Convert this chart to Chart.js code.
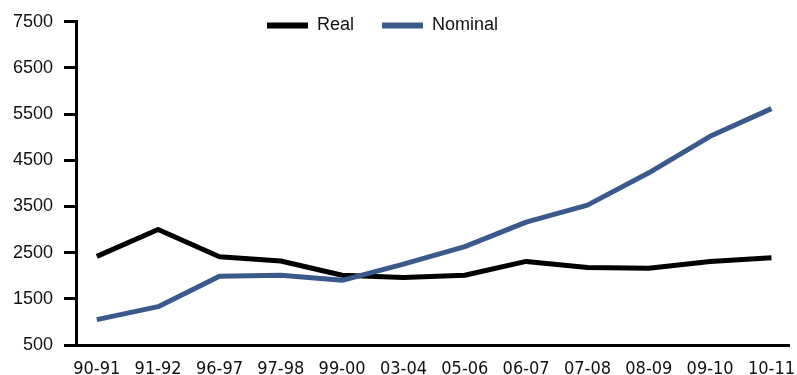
<!DOCTYPE html>
<html>
<head>
<meta charset="utf-8">
<script src="https://cdn.jsdelivr.net/npm/chart.js@4/dist/chart.umd.min.js"></script>
<style>
  html, body { margin: 0; padding: 0; background: #fff; }
  #wrap { width: 797px; height: 375px; position: relative; }
</style>
</head>
<body>
<div id="wrap"><canvas id="c" width="797" height="375"></canvas></div>
<script>
const categories = ['90-91','91-92','96-97','97-98','99-00','03-04','05-06','06-07','07-08','08-09','09-10','10-11'];
const realValues = [2420, 3000, 2410, 2320, 2010, 1960, 2010, 2310, 2180, 2160, 2310, 2390];
const nominalValues = [1050, 1330, 1990, 2010, 1900, 2250, 2630, 3160, 3530, 4230, 5020, 5620];
const yTicks = [500, 1500, 2500, 3500, 4500, 5500, 6500, 7500];

const toPoints = arr => arr.map((v, i) => ({ x: i, y: v }));
const NUM_FONT = { family: "'Liberation Sans', Arial, sans-serif", size: 18 };
const CAT_FONT = { family: "'Liberation Sans Narrow', 'DejaVu Sans Condensed', sans-serif", size: 18 };

// Legend takes no layout space; it is placed over the plot's top area.
const legendPlace = {
  id: 'legendPlace',
  beforeLayout(chart) {
    const l = chart.legend;
    if (l && !l._patched) {
      const origFit = l.fit.bind(l);
      l.fit = function () { origFit(); this.height = 0; };
      l._patched = true;
    }
  },
  afterLayout(chart) {
    const l = chart.legend;
    l.top = -11.5; l.bottom = 60; l.height = l.bottom - l.top;
    l.left = 239; l.right = 3000; l.width = l.right - l.left;
  }
};

new Chart(document.getElementById('c'), {
  type: 'line',
  data: {
    datasets: [
      { label: 'Real', data: toPoints(realValues), borderColor: '#000000', backgroundColor: '#000000',
        borderWidth: 5, pointRadius: 0, tension: 0, order: 1, borderJoinStyle: 'round' },
      { label: 'Nominal', data: toPoints(nominalValues), borderColor: '#3a5a8c', backgroundColor: '#3a5a8c',
        borderWidth: 5, pointRadius: 0, tension: 0, order: 0, borderJoinStyle: 'round' }
    ]
  },
  options: {
    responsive: false,
    animation: false,
    layout: { padding: { top: 18, left: 0, right: 0, bottom: 0 } },
    plugins: {
      tooltip: { enabled: false },
      legend: {
        position: 'top',
        align: 'start',
        reverse: true,
        labels: {
          font: NUM_FONT,
          color: '#111',
          boxWidth: 41,
          boxHeight: 6,
          padding: 28,
          generateLabels: (chart) => Chart.defaults.plugins.legend.labels.generateLabels(chart).map(l => ({ ...l, lineWidth: 0 }))
        }
      }
    },
    scales: {
      x: {
        type: 'linear',
        min: -0.339,
        max: 11.29,
        afterBuildTicks: (axis) => { axis.ticks = categories.map((_, i) => ({ value: i })); },
        afterFit: (axis) => { axis.height = 30; },
        grid: { display: true, drawOnChartArea: false, drawTicks: true, tickLength: 12, tickColor: 'rgba(0,0,0,0)' },
        border: { display: true, color: '#000', width: 3 },
        ticks: { autoSkip: false, maxRotation: 0, padding: 2, font: CAT_FONT, color: '#111',
          callback: (v) => categories[v] !== undefined ? categories[v] : '' }
      },
      y: {
        min: 500,
        max: 7500,
        afterBuildTicks: (axis) => { axis.ticks = yTicks.map(v => ({ value: v })); },
        afterFit: (axis) => { axis.width = 76; },
        grid: { drawOnChartArea: false, drawTicks: true, tickLength: 12, lineWidth: 3, color: '#000', tickWidth: 3, tickColor: '#000' },
        border: { display: true, color: '#000', width: 3 },
        ticks: { padding: 11, font: NUM_FONT, color: '#111', callback: (v) => String(v) }
      }
    }
  },
  plugins: [legendPlace]
});
</script>
</body>
</html>
